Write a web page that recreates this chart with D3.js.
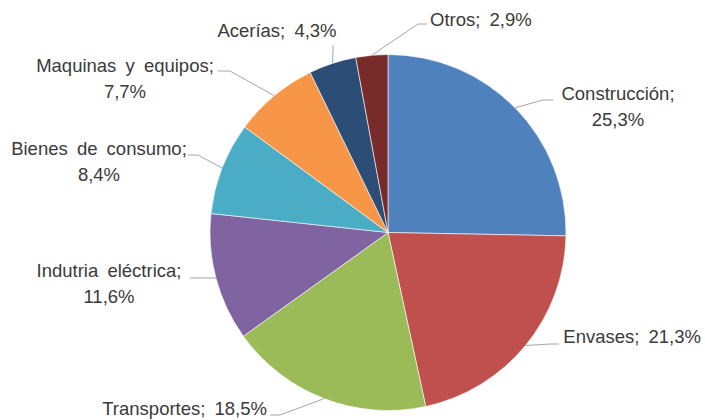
<!DOCTYPE html>
<html>
<head>
<meta charset="utf-8">
<script src="https://cdn.jsdelivr.net/npm/d3@7"></script>
<style>
  html, body { margin: 0; padding: 0; background: #fff; }
  svg { display: block; }
</style>
</head>
<body>
<div id="chart"></div>
<script>
// Sectors and their share (%)
const sectors = ["Construcción", "Envases", "Transportes", "Indutria eléctrica",
  "Bienes de consumo", "Maquinas y equipos", "Acerías", "Otros"];
const shares = [25.3, 21.3, 18.5, 11.6, 8.4, 7.7, 4.3, 2.9];
const colors = ["#4F81BD", "#C0504D", "#9BBB59", "#8064A2",
  "#4BACC6", "#F79646", "#2C4D75", "#772C2A"];

// label placement (Excel "best fit" positions), one per sector
// two: label split on two lines; elbow: where the leader line bends; end: where it touches the text
const labelLayout = [
  { x: 618, y: 100, anchor: "middle", two: true,  elbow: [543, 100], end: [553, 100] },
  { x: 701, y: 343, anchor: "end",    two: false, elbow: [550, 344], end: [559, 344] },
  { x: 267, y: 415, anchor: "end",    two: false, elbow: [280, 415], end: [270, 415] },
  { x: 109, y: 277, anchor: "middle", two: true,  elbow: [200, 278], end: [190, 278] },
  { x: 99,  y: 155, anchor: "middle", two: true,  elbow: [198, 155], end: [188, 155] },
  { x: 125, y: 72,  anchor: "middle", two: true,  elbow: [230, 71],  end: [218, 71] },
  { x: 277, y: 37,  anchor: "middle", two: false, elbow: [333, 52],  end: [333, 45] },
  { x: 430, y: 26,  anchor: "start",  two: false, elbow: [418, 24],  end: [427, 24] }
];

const width = 705, height = 420;
const cx = 388, cy = 232.5, radius = 178;

const locale = d3.formatLocale({ decimal: ",", thousands: ".", grouping: [3], currency: ["", "€"] });
const fmt = locale.format(".1f");

const svg = d3.select("#chart").append("svg")
  .attr("width", width)
  .attr("height", height);

const g = svg.append("g").attr("transform", `translate(${cx},${cy})`);

const data = sectors.map((s, i) => ({ name: s, value: shares[i], color: colors[i], lay: labelLayout[i] }));

const pie = d3.pie().sort(null).value(d => d.value);
const arc = d3.arc().innerRadius(0).outerRadius(radius);
const edge = d3.arc().innerRadius(radius).outerRadius(radius);

const arcs = pie(data);

g.selectAll("path.slice")
  .data(arcs)
  .join("path")
  .attr("class", "slice")
  .attr("d", arc)
  .attr("fill", d => d.data.color)
  .attr("stroke", "#fff")
  .attr("stroke-width", 0.6);

// leader lines
svg.selectAll("polyline.leader")
  .data(arcs)
  .join("polyline")
  .attr("class", "leader")
  .attr("fill", "none")
  .attr("stroke", "#a6a6a6")
  .attr("stroke-width", 1)
  .attr("points", d => {
    const c = edge.centroid(d);
    const p0 = [cx + c[0], cy + c[1]];
    return [p0, d.data.lay.elbow, d.data.lay.end].map(p => p.join(",")).join(" ");
  });

// labels
const labels = svg.selectAll("text.lbl")
  .data(arcs)
  .join("text")
  .attr("class", "lbl")
  .attr("font-family", "'Liberation Sans', Arial, sans-serif")
  .attr("font-size", "18.5px")
  .attr("word-spacing", "4px")
  .attr("fill", "#3a3a3a")
  .attr("text-anchor", d => d.data.lay.anchor)
  .attr("x", d => d.data.lay.x)
  .attr("y", d => d.data.lay.y);

labels.each(function (d) {
  const t = d3.select(this);
  const pct = fmt(d.data.value) + "%";
  if (d.data.lay.two) {
    t.append("tspan").attr("x", d.data.lay.x).text(d.data.name + ";");
    t.append("tspan").attr("x", d.data.lay.x).attr("dy", 26).text(pct);
  } else {
    t.text(d.data.name + "; " + pct);
  }
});
</script>
</body>
</html>
